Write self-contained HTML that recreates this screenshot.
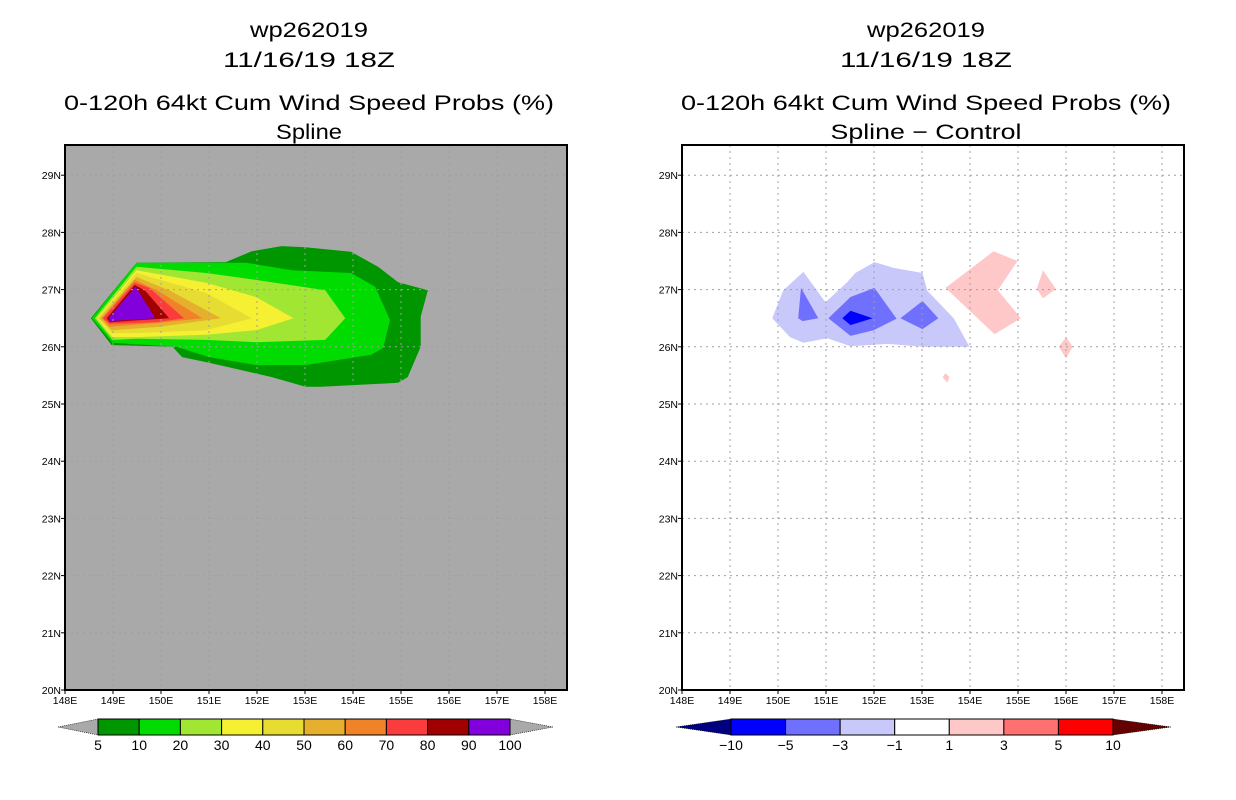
<!DOCTYPE html>
<html><head><meta charset="utf-8"><style>
html,body{margin:0;padding:0;background:#fff;width:1236px;height:800px;overflow:hidden}
svg text{font-family:"Liberation Sans",sans-serif;fill:#000}
</style></head><body>
<svg id="chart" width="1236" height="800" viewBox="0 0 1236 800" xmlns="http://www.w3.org/2000/svg"></svg>
<script>
// ---- data ----
const lonTicks = [148,149,150,151,152,153,154,155,156,157,158];
const latTicks = [20,21,22,23,24,25,26,27,28,29];
const leftLevels = [5,10,20,30,40,50,60,70,80,90,100];
const leftColors = ["#009600","#00dc00","#a0e632","#f5f032","#e6dc32","#e6af2d","#f08228","#fa3c3c","#a00000","#8200dc"];
const diffLevels = [-10,-5,-3,-1,1,3,5,10];
const diffColors = ["#0000ff","#7070ff","#c8c8fa","#ffffff","#ffc8c8","#ff7070","#ff0000"];
const prob5 = [[148.54,26.5],[149.49,27.47],[151.35,27.48],[151.89,27.67],[152.51,27.76],[153.01,27.74],[153.96,27.66],[154.52,27.40],[154.94,27.13],[155.56,26.99],[155.41,26.53],[155.41,26.00],[155.14,25.47],[154.94,25.37],[153.34,25.30],[153.01,25.30],[152.31,25.47],[151.00,25.72],[150.44,25.82],[150.24,26.00],[148.97,26.03]];
const prob10 = [[148.56,26.5],[149.49,27.47],[151.77,27.47],[152.72,27.34],[153.96,27.29],[154.46,27.05],[154.77,26.47],[154.63,25.98],[154.38,25.86],[153.01,25.68],[151.98,25.68],[151.00,25.82],[150.32,26.00],[148.99,26.07]];
const prob20 = [[148.62,26.5],[149.49,27.40],[150.94,27.29],[151.98,27.17],[153.42,26.99],[153.84,26.50],[153.42,26.12],[151.98,26.08],[150.94,26.12],[149.49,26.14],[148.99,26.12]];
const prob30 = [[148.66,26.5],[149.49,27.34],[150.94,27.12],[151.98,26.87],[152.76,26.5],[151.98,26.29],[150.94,26.21],[149.49,26.17],[148.99,26.17]];
const prob40 = [[148.68,26.5],[149.49,27.29],[150.94,26.94],[151.89,26.5],[150.94,26.29],[149.49,26.24],[148.97,26.24]];
const prob50 = [[148.72,26.5],[149.49,27.22],[150.17,26.99],[151.25,26.5],[149.97,26.35],[148.97,26.29]];
const prob60 = [[148.77,26.5],[149.45,27.17],[149.97,26.96],[150.86,26.5],[149.97,26.42],[148.93,26.35]];
const prob70 = [[148.79,26.5],[149.45,27.12],[149.76,27.03],[150.48,26.5],[149.90,26.43],[148.93,26.40]];
const prob80 = [[148.87,26.5],[149.45,27.08],[149.66,26.99],[150.17,26.5],[148.93,26.43]];
const prob90 = [[148.93,26.52],[149.47,27.05],[149.88,26.5],[148.93,26.45]];
const diffNeg1 = [[149.88,26.50],[150.11,26.99],[150.53,27.31],[150.99,26.78],[151.44,27.13],[151.61,27.29],[152.01,27.48],[152.41,27.38],[153.01,27.29],[153.11,26.98],[153.66,26.50],[153.99,26.00],[153.03,26.00],[152.28,26.05],[151.51,26.01],[151.03,26.15],[150.53,26.07],[150.25,26.17]];
const diffNeg3a = [[150.48,27.03],[150.84,26.50],[150.51,26.45],[150.42,26.50]];
const diffNeg3b = [[151.05,26.50],[151.51,26.87],[152.01,27.03],[152.47,26.49],[151.99,26.29],[151.51,26.19]];
const diffNeg3c = [[152.55,26.50],[153.01,26.80],[153.34,26.50],[153.01,26.31]];
const diffNeg5 = [[151.34,26.50],[151.51,26.63],[151.97,26.50],[151.51,26.38]];
const diffPos1a = [[153.49,27.03],[154.49,27.67],[154.99,27.50],[154.58,26.99],[155.06,26.50],[154.51,26.22]];
const diffPos1b = [[155.52,27.34],[155.79,27.01],[155.52,26.85],[155.39,27.01]];
const diffPos1c = [[156.00,26.17],[156.14,26.00],[156.00,25.80],[155.85,26.00]];
const diffPos1d = [[153.49,25.54],[153.57,25.47],[153.53,25.37],[153.43,25.47]];

// ---- drawing ----
const NS="http://www.w3.org/2000/svg";
const svg=document.getElementById('chart');
function mk(tag,attrs,parent){const e=document.createElementNS(NS,tag);for(const k in attrs)e.setAttribute(k,attrs[k]);(parent||svg).appendChild(e);return e;}
const Y0=145,Y1=690,LAT0=20,LATS=57.2,LONS=48;
function yS(lat){return Y1-(lat-LAT0)*LATS;}
function makeX(x0){return lon=>x0+(lon-148)*LONS;}

function panel(x0,bg,title2,w2,name){
  const g=mk('g',{});
  
  
  const xS=makeX(x0);
  const cx=x0+244;
  const t=[["wp262019",37,118],["11/16/19 18Z",67,172],["0-120h 64kt Cum Wind Speed Probs (%)",110,490],[title2,139,w2]];
  t.forEach((s,i)=>{const e=mk('text',{x:cx,y:s[1],'text-anchor':'middle','font-size':21,textLength:s[2],lengthAdjust:'spacingAndGlyphs'},g);e.textContent=s[0];
    
    });
  const clip=mk('clipPath',{id:'clip'+name},g);
  mk('rect',{x:x0,y:Y0,width:502,height:Y1-Y0},clip);
  const bgr=mk('rect',{x:x0,y:Y0,width:502,height:Y1-Y0,fill:bg},g);
  
  
  const cg=mk('g',{'clip-path':'url(#clip'+name+')'},g);
  return {g,cg,xS,x0};
}
function poly(p,pts,fill,nm){
  const e=mk('polygon',{points:pts.map(q=>p.xS(q[0]).toFixed(1)+','+yS(q[1]).toFixed(1)).join(' '),fill:fill},p.cg);
  
  
}
function axes(p){
  lonTicks.forEach(l=>{const x=p.xS(l);
    mk('line',{x1:x,y1:Y0,x2:x,y2:Y1,stroke:'#a0a0a0','stroke-dasharray':'2,4'},p.cg);
    mk('line',{x1:x,y1:Y1,x2:x,y2:Y1+4,stroke:'#000'},p.g);
    const e=mk('text',{x:x,y:Y1+14,'text-anchor':'middle','font-size':10.5},p.g);e.textContent=l+'E';
    
    });
  latTicks.forEach(l=>{const y=yS(l);
    mk('line',{x1:p.x0,y1:y,x2:p.x0+502,y2:y,stroke:'#a0a0a0','stroke-dasharray':'2,4'},p.cg);
    mk('line',{x1:p.x0-4,y1:y,x2:p.x0,y2:y,stroke:'#000'},p.g);
    const e=mk('text',{x:p.x0-4,y:y+4,'text-anchor':'end','font-size':10.5},p.g);e.textContent=l+'N';
    
    });
  const f=mk('rect',{x:p.x0,y:Y0,width:502,height:Y1-Y0,fill:'none',stroke:'#000','stroke-width':2},p.g);
  
  
}
function colorbar(levels,colors,x0,x1,xl,xr,lc,rc,name,labelFmt){
  const g=mk('g',{});
  
  
  const y0=719,y1=735,ym=727,n=colors.length,w=(x1-x0)/n;
  mk('polygon',{points:`${xl},${ym} ${x0},${y0} ${x0},${y1}`,fill:lc,stroke:'#000','stroke-width':0.6,'stroke-dasharray':'1,1'},g);
  mk('polygon',{points:`${xr},${ym} ${x1},${y0} ${x1},${y1}`,fill:rc,stroke:'#000','stroke-width':0.6,'stroke-dasharray':'1,1'},g);
  colors.forEach((c,i)=>{const r=mk('rect',{x:x0+i*w,y:y0,width:w,height:y1-y0,fill:c,stroke:'#000','stroke-width':1},g);
    
    });
  levels.forEach((v,i)=>{const e=mk('text',{x:x0+i*w,y:750,'text-anchor':'middle','font-size':14},g);e.textContent=labelFmt(v);
    
    });
}

const L=panel(65,'#a9a9a9','Spline',66,'left-panel-spline');
[prob5,prob10,prob20,prob30,prob40,prob50,prob60,prob70,prob80,prob90].forEach((pts,i)=>poly(L,pts,leftColors[i],'prob-contour-'+leftLevels[i]));
axes(L);
colorbar(leftLevels,leftColors,98,510,58,553,'#a9a9a9','#a9a9a9','left-colorbar',v=>String(v));

const R=panel(682,'#ffffff','Spline \u2212 Control',191,'right-panel-difference');
poly(R,diffNeg1,diffColors[2],'diff-contour-neg1');
poly(R,diffNeg3a,diffColors[1],'diff-contour-neg3');
poly(R,diffNeg3b,diffColors[1],'diff-contour-neg3');
poly(R,diffNeg3c,diffColors[1],'diff-contour-neg3');
poly(R,diffNeg5,diffColors[0],'diff-contour-neg5');
[diffPos1a,diffPos1b,diffPos1c,diffPos1d].forEach(p=>poly(R,p,diffColors[4],'diff-contour-pos1'));
axes(R);
colorbar(diffLevels,diffColors,731,1113,676,1171,'#000080','#640000','right-colorbar',v=>v<0?'\u2212'+(-v):String(v));
</script>
</body></html>
